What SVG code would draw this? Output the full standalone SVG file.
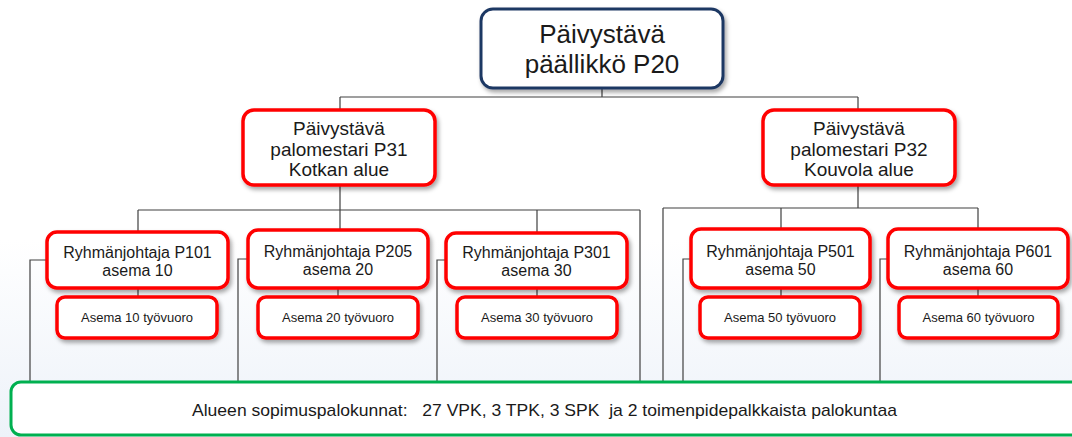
<svg xmlns="http://www.w3.org/2000/svg" width="1072" height="437" viewBox="0 0 1072 437">
<defs>
<linearGradient id="bg" x1="0" y1="0" x2="0" y2="1">
<stop offset="0" stop-color="#ffffff"/>
<stop offset="0.55" stop-color="#ffffff"/>
<stop offset="1" stop-color="#edf2f9"/>
</linearGradient>
<filter id="sh" x="-10%" y="-20%" width="125%" height="150%">
<feDropShadow dx="2" dy="3" stdDeviation="2" flood-color="#000" flood-opacity="0.35"/>
</filter>
<style>
.red{fill:#fff;stroke:#ff0000;stroke-width:3.5;filter:url(#sh)}
.top{fill:#fff;stroke:#1f3864;stroke-width:3;filter:url(#sh)}
.green{fill:#fff;stroke:#00b050;stroke-width:3}
.t{font-family:"Liberation Sans",Arial,sans-serif;fill:#1a1a1a;text-anchor:middle}
.c{fill:none;stroke:#404040;stroke-width:1.2}
</style>
</defs>
<rect x="0" y="0" width="1072" height="437" fill="url(#bg)"/>
<g id="connectors" class="c">
<path d="M602 88V97M340 97H858M340 97V110M858 97V110"/>
<path d="M340 185V230M138 210H640M138 210V232M537 210V233M640 210V382"/>
<path d="M858 185V208M663 208H978M663 208V382M781 208V229M978 208V229"/>
<path d="M47 260H30V382M248 259H238V382M446 260H437V382M691 259H683V382M888 259H880V382"/>
<path d="M138 288V297M338 288V297M537 288V297M781 288V297M978 288V297"/>
</g>
<g id="p20">
<rect class="top" x="481" y="9" width="242" height="79" rx="12"/>
<text class="t" x="602" y="43" font-size="26">Päivystävä</text>
<text class="t" x="602" y="73" font-size="26">päällikkö P20</text>
</g>
<g id="p31">
<rect class="red" x="243" y="110" width="192" height="75" rx="11"/>
<text class="t" x="339" y="135" font-size="19">Päivystävä</text>
<text class="t" x="339" y="155.5" font-size="19">palomestari P31</text>
<text class="t" x="339" y="176" font-size="19">Kotkan alue</text>
</g>
<g id="p32">
<rect class="red" x="763" y="110" width="192" height="75" rx="11"/>
<text class="t" x="859" y="135" font-size="19">Päivystävä</text>
<text class="t" x="859" y="155.5" font-size="19">palomestari P32</text>
<text class="t" x="859" y="176" font-size="19">Kouvola alue</text>
</g>
<g id="p101">
<rect class="red" x="47" y="232" width="181" height="56" rx="10"/>
<text class="t" x="137.5" y="258" font-size="16">Ryhmänjohtaja P101</text>
<text class="t" x="137.5" y="276" font-size="16">asema 10</text>
</g>
<g id="p205">
<rect class="red" x="248" y="230" width="180" height="58" rx="10"/>
<text class="t" x="338" y="257" font-size="16">Ryhmänjohtaja P205</text>
<text class="t" x="338" y="275" font-size="16">asema 20</text>
</g>
<g id="p301">
<rect class="red" x="446" y="233" width="181" height="55" rx="10"/>
<text class="t" x="536.5" y="258" font-size="16">Ryhmänjohtaja P301</text>
<text class="t" x="536.5" y="276" font-size="16">asema 30</text>
</g>
<g id="p501">
<rect class="red" x="691" y="229" width="179" height="59" rx="10"/>
<text class="t" x="780.5" y="257" font-size="16">Ryhmänjohtaja P501</text>
<text class="t" x="780.5" y="275" font-size="16">asema 50</text>
</g>
<g id="p601">
<rect class="red" x="888" y="229" width="180" height="59" rx="10"/>
<text class="t" x="978" y="257" font-size="16">Ryhmänjohtaja P601</text>
<text class="t" x="978" y="275" font-size="16">asema 60</text>
</g>
<g id="tv10">
<rect class="red" x="57" y="297" width="160" height="41" rx="8"/>
<text class="t" x="137" y="322" font-size="13">Asema 10 työvuoro</text>
</g>
<g id="tv20">
<rect class="red" x="258" y="297" width="160" height="41" rx="8"/>
<text class="t" x="338" y="322" font-size="13">Asema 20 työvuoro</text>
</g>
<g id="tv30">
<rect class="red" x="457" y="297" width="160" height="41" rx="8"/>
<text class="t" x="537" y="322" font-size="13">Asema 30 työvuoro</text>
</g>
<g id="tv50">
<rect class="red" x="700" y="297" width="160" height="41" rx="8"/>
<text class="t" x="780" y="322" font-size="13">Asema 50 työvuoro</text>
</g>
<g id="tv60">
<rect class="red" x="899" y="297" width="159" height="41" rx="8"/>
<text class="t" x="978.5" y="322" font-size="13">Asema 60 työvuoro</text>
</g>
<g id="sopimuspalokunnat">
<rect class="green" x="11" y="382" width="1072" height="53" rx="10"/>
<text class="t" x="544.5" y="416" font-size="17" textLength="705" lengthAdjust="spacingAndGlyphs" xml:space="preserve">Alueen sopimuspalokunnat:   27 VPK, 3 TPK, 3 SPK  ja 2 toimenpidepalkkaista palokuntaa</text>
</g>
</svg>
